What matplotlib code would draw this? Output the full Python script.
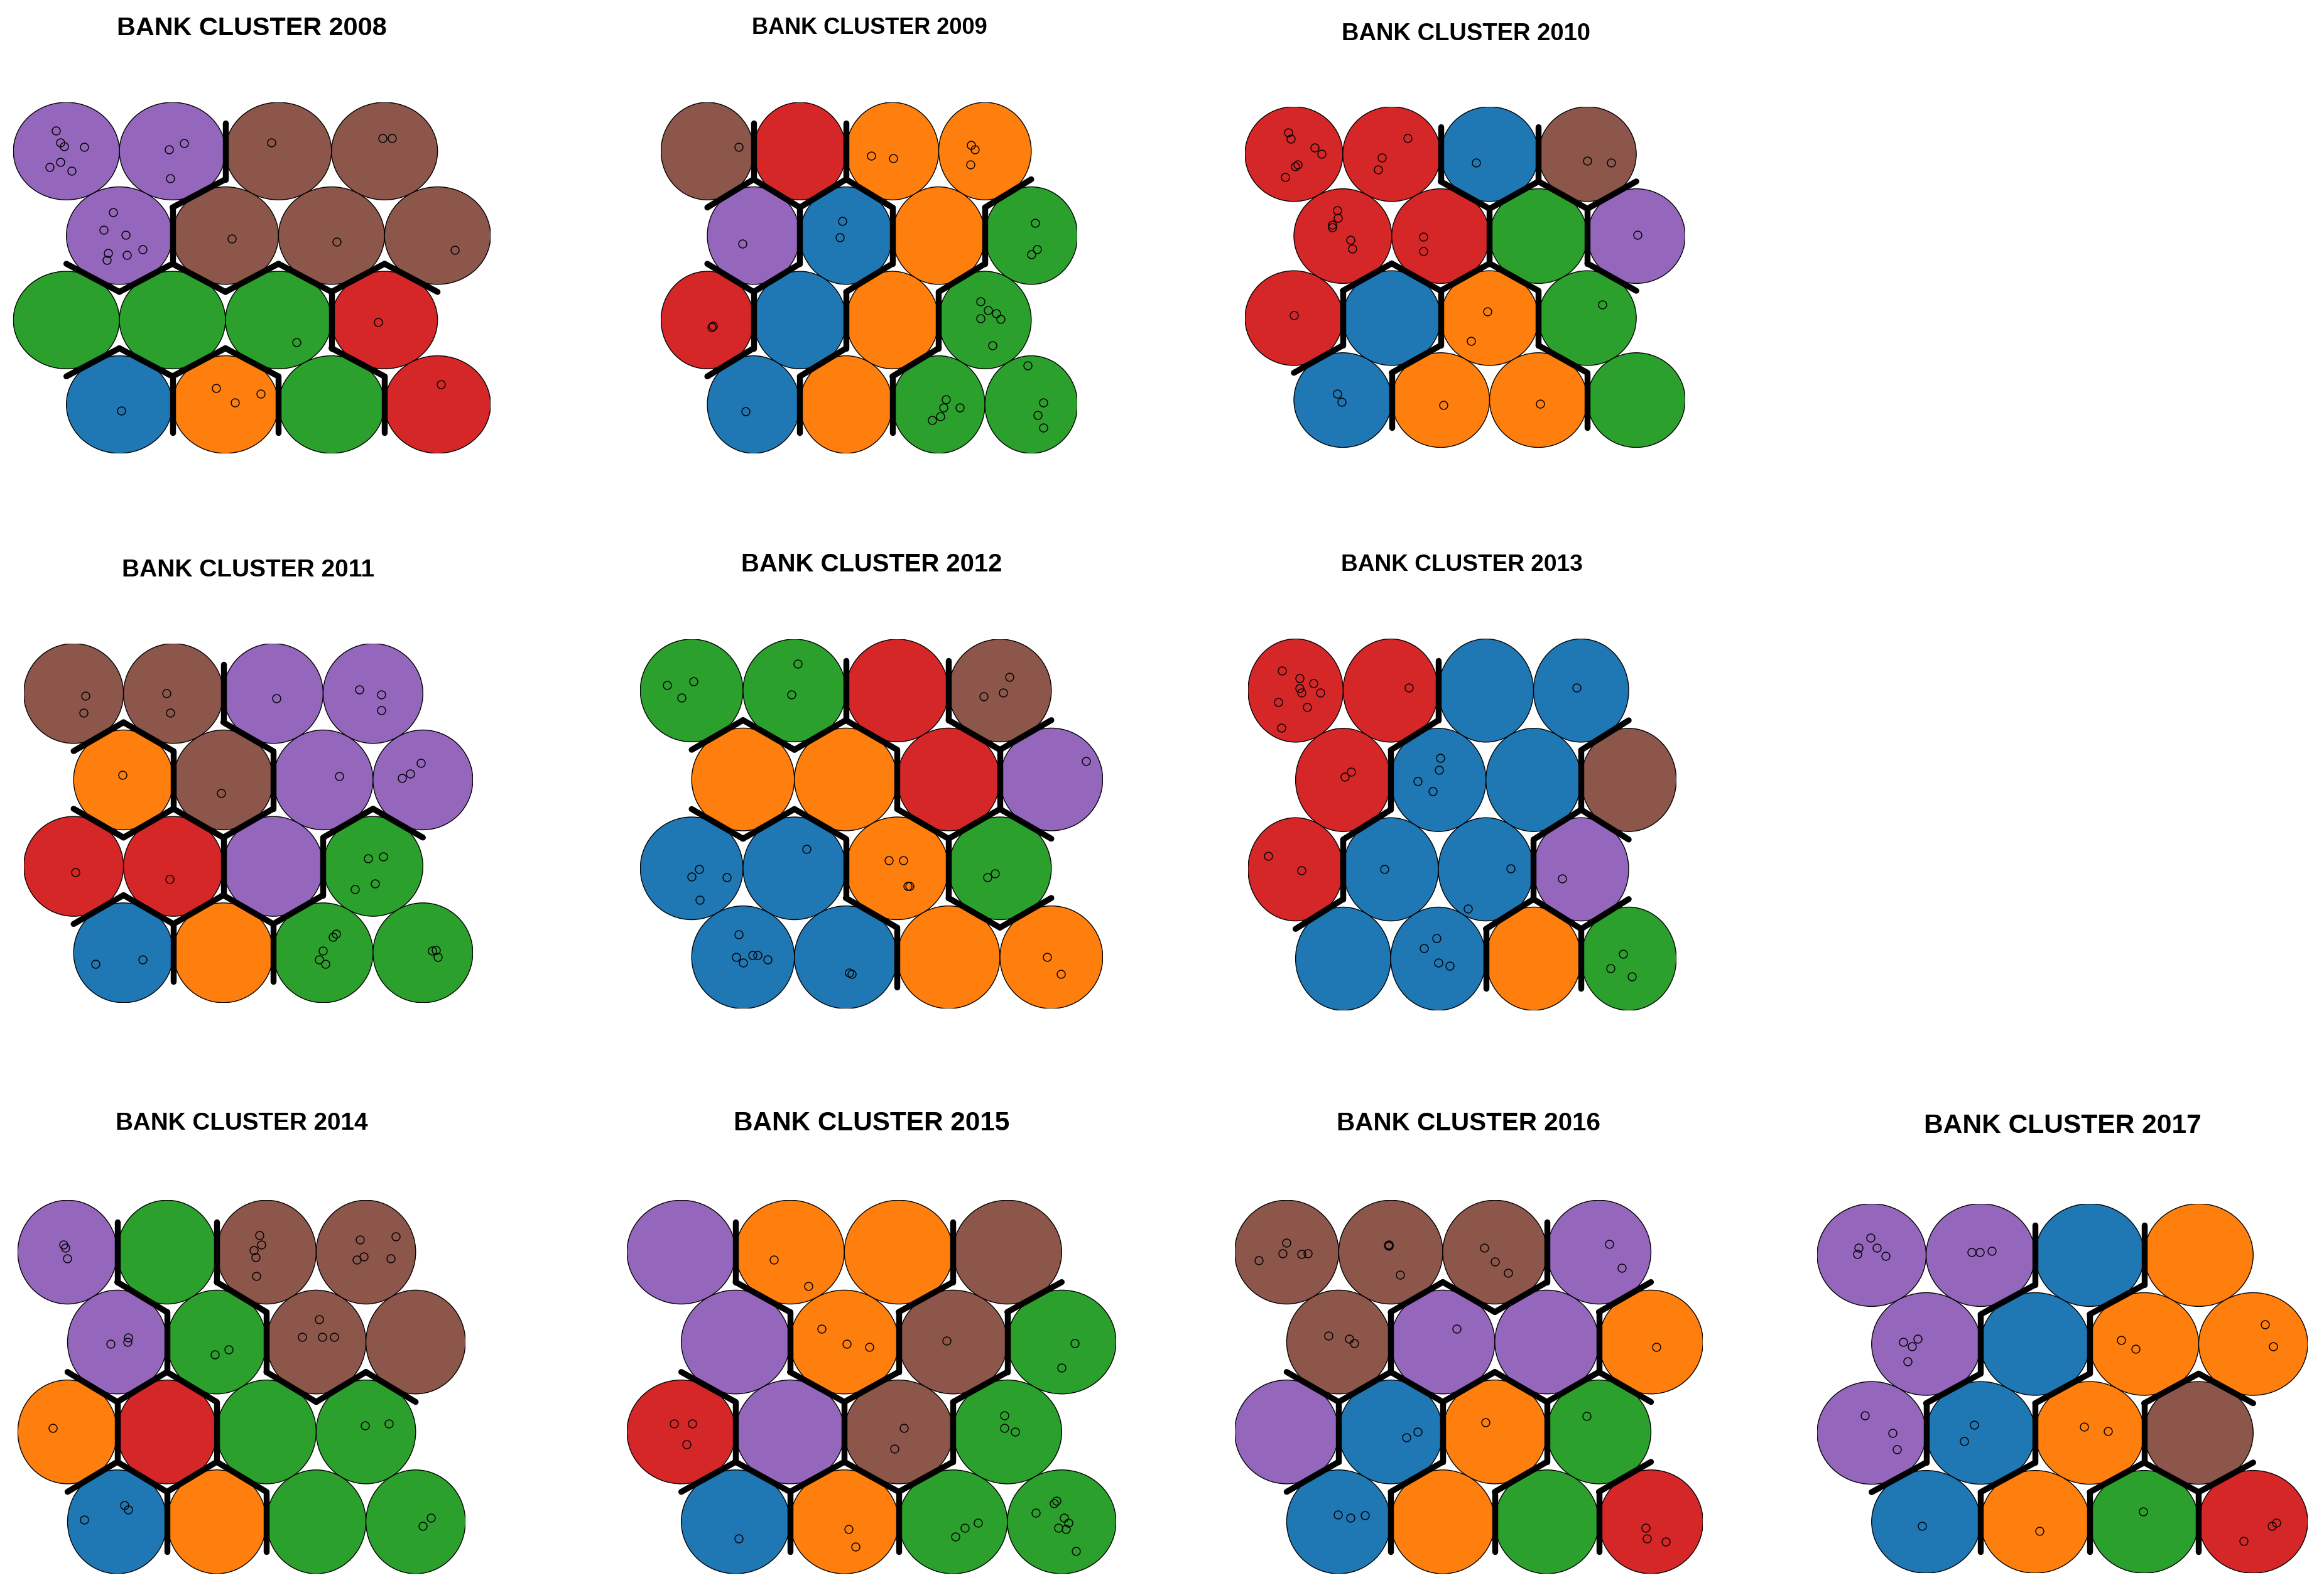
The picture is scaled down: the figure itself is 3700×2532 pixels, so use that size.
import numpy as np
import matplotlib
matplotlib.use("Agg")
import matplotlib.pyplot as plt
from matplotlib.patches import Circle

# ---------------- data ----------------
years = [2008, 2009, 2010, 2011, 2012, 2013, 2014, 2015, 2016, 2017]

palette = {"blue": "#1f77b4", "orange": "#ff7f0e", "green": "#2ca02c",
           "red": "#d62728", "purple": "#9467bd", "brown": "#8c564b"}

# cluster colour of each SOM unit, rows listed top to bottom, 4 units per row
clusters_2008 = ["purple", "purple", "brown", "brown",
                 "purple", "brown", "brown", "brown",
                 "green", "green", "green", "red",
                 "blue", "orange", "green", "red"]
clusters_2009 = ["brown", "red", "orange", "orange",
                 "purple", "blue", "orange", "green",
                 "red", "blue", "orange", "green",
                 "blue", "orange", "green", "green"]
clusters_2010 = ["red", "red", "blue", "brown",
                 "red", "red", "green", "purple",
                 "red", "blue", "orange", "green",
                 "blue", "orange", "orange", "green"]
clusters_2011 = ["brown", "brown", "purple", "purple",
                 "orange", "brown", "purple", "purple",
                 "red", "red", "purple", "green",
                 "blue", "orange", "green", "green"]
clusters_2012 = ["green", "green", "red", "brown",
                 "orange", "orange", "red", "purple",
                 "blue", "blue", "orange", "green",
                 "blue", "blue", "orange", "orange"]
clusters_2013 = ["red", "red", "blue", "blue",
                 "red", "blue", "blue", "brown",
                 "red", "blue", "blue", "purple",
                 "blue", "blue", "orange", "green"]
clusters_2014 = ["purple", "green", "brown", "brown",
                 "purple", "green", "brown", "brown",
                 "orange", "red", "green", "green",
                 "blue", "orange", "green", "green"]
clusters_2015 = ["purple", "orange", "orange", "brown",
                 "purple", "orange", "brown", "green",
                 "red", "purple", "brown", "green",
                 "blue", "orange", "green", "green"]
clusters_2016 = ["brown", "brown", "brown", "purple",
                 "brown", "purple", "purple", "orange",
                 "purple", "blue", "orange", "green",
                 "blue", "orange", "green", "red"]
clusters_2017 = ["purple", "purple", "blue", "orange",
                 "purple", "blue", "orange", "orange",
                 "purple", "blue", "orange", "brown",
                 "blue", "orange", "green", "red"]

# banks mapped to units: (row, col, dx, dy) offsets inside the unit
points_2008 = [(0, 0, -0.10, 0.21), (0, 0, -0.06, 0.09), (0, 0, -0.02, 0.05), (0, 0, 0.17, 0.04),
               (0, 0, -0.06, -0.11), (0, 0, -0.16, -0.16), (0, 0, 0.05, -0.20),
               (0, 1, -0.03, 0.02), (0, 1, 0.11, 0.08), (0, 1, -0.02, -0.28),
               (0, 2, -0.07, 0.09), (0, 3, -0.02, 0.13), (0, 3, 0.07, 0.13),
               (1, 0, -0.06, 0.24), (1, 0, -0.15, 0.06), (1, 0, 0.06, 0.01), (1, 0, 0.22, -0.14),
               (1, 0, -0.11, -0.18), (1, 0, 0.07, -0.20), (1, 0, -0.12, -0.25),
               (1, 1, 0.06, -0.03), (1, 2, 0.05, -0.06), (1, 3, 0.16, -0.15),
               (2, 2, 0.17, -0.23), (2, 3, -0.06, -0.02),
               (3, 0, 0.02, -0.06), (3, 1, -0.09, 0.17), (3, 1, 0.09, 0.02), (3, 1, 0.33, 0.11),
               (3, 3, 0.03, 0.21)]
points_2009 = [(0, 0, 0.34, 0.04), (0, 2, -0.23, -0.05), (0, 2, 0.01, -0.07),
               (0, 3, -0.15, 0.06), (0, 3, -0.11, 0.02), (0, 3, -0.16, -0.14),
               (1, 0, -0.12, -0.08), (1, 1, -0.04, 0.15), (1, 1, -0.07, -0.02),
               (1, 3, 0.04, 0.13), (1, 3, 0.06, -0.14), (1, 3, 0.00, -0.19),
               (2, 0, 0.06, -0.06), (2, 0, 0.05, -0.07),
               (2, 3, -0.05, 0.19), (2, 3, 0.03, 0.10), (2, 3, 0.12, 0.07), (2, 3, -0.05, 0.02),
               (2, 3, 0.17, 0.01), (2, 3, 0.08, -0.26),
               (3, 0, -0.09, -0.07),
               (3, 2, 0.08, 0.05), (3, 2, 0.05, -0.03), (3, 2, 0.23, -0.03), (3, 2, 0.02, -0.12),
               (3, 2, -0.07, -0.16),
               (3, 3, -0.04, 0.40), (3, 3, 0.13, 0.02), (3, 3, 0.07, -0.11), (3, 3, 0.13, -0.24)]
points_2010 = [(0, 0, -0.06, 0.23), (0, 0, -0.03, 0.16), (0, 0, 0.21, 0.07), (0, 0, 0.28, 0.00),
               (0, 0, 0.04, -0.11), (0, 0, 0.01, -0.13), (0, 0, -0.09, -0.24),
               (0, 1, 0.16, 0.17), (0, 1, -0.10, -0.04), (0, 1, -0.14, -0.16),
               (0, 2, -0.14, -0.09), (0, 3, 0.00, -0.07), (0, 3, 0.24, -0.09),
               (1, 0, -0.06, 0.27), (1, 0, -0.05, 0.19), (1, 0, -0.11, 0.12), (1, 0, -0.11, 0.09),
               (1, 0, 0.08, -0.04), (1, 0, 0.10, -0.13),
               (1, 1, -0.18, -0.01), (1, 1, -0.18, -0.16), (1, 3, 0.01, 0.01),
               (2, 0, 0.00, 0.03), (2, 2, -0.02, 0.07), (2, 2, -0.19, -0.24), (2, 3, 0.15, 0.14),
               (3, 0, -0.06, 0.07), (3, 0, -0.01, -0.02), (3, 1, 0.03, -0.05), (3, 2, 0.02, -0.04)]
points_2011 = [(0, 0, 0.12, -0.02), (0, 0, 0.10, -0.19), (0, 1, -0.07, 0.00), (0, 1, -0.03, -0.19),
               (0, 2, 0.03, -0.05), (0, 3, -0.14, 0.04), (0, 3, 0.08, -0.01), (0, 3, 0.08, -0.17),
               (1, 0, -0.01, 0.05), (1, 1, -0.02, -0.13), (1, 2, 0.16, 0.04),
               (1, 3, -0.02, 0.17), (1, 3, -0.13, 0.06), (1, 3, -0.21, 0.02),
               (2, 0, 0.02, -0.06), (2, 1, -0.04, -0.13),
               (2, 3, -0.05, 0.08), (2, 3, 0.10, 0.10), (2, 3, 0.02, -0.17), (2, 3, -0.18, -0.23),
               (3, 0, -0.28, -0.11), (3, 0, 0.19, -0.07),
               (3, 2, 0.13, 0.19), (3, 2, 0.10, 0.16), (3, 2, 0.00, 0.02), (3, 2, -0.04, -0.07),
               (3, 2, 0.02, -0.11),
               (3, 3, 0.09, 0.02), (3, 3, 0.13, 0.03), (3, 3, 0.15, -0.04)]
points_2012 = [(0, 0, -0.24, 0.05), (0, 0, 0.02, 0.09), (0, 0, -0.10, -0.07),
               (0, 1, 0.03, 0.26), (0, 1, -0.03, -0.04),
               (0, 3, 0.09, 0.13), (0, 3, 0.03, -0.02), (0, 3, -0.16, -0.06),
               (1, 3, 0.34, 0.18),
               (2, 0, 0.07, -0.01), (2, 0, 0.00, -0.08), (2, 0, 0.34, -0.09), (2, 0, 0.08, -0.31),
               (2, 1, 0.12, 0.19),
               (2, 2, -0.08, 0.08), (2, 2, 0.06, 0.08), (2, 2, 0.10, -0.17), (2, 2, 0.12, -0.17),
               (2, 3, -0.05, -0.05), (2, 3, -0.12, -0.09),
               (3, 0, -0.04, 0.22), (3, 0, -0.07, 0.00), (3, 0, 0.00, -0.05), (3, 0, 0.09, 0.02),
               (3, 0, 0.14, 0.02), (3, 0, 0.24, -0.02),
               (3, 1, 0.03, -0.15), (3, 1, 0.06, -0.16),
               (3, 3, -0.04, 0.00), (3, 3, 0.09, -0.16)]
points_2013 = [(0, 0, -0.14, 0.19), (0, 0, 0.04, 0.12), (0, 0, 0.19, 0.07), (0, 0, 0.04, 0.02),
               (0, 0, 0.06, -0.02), (0, 0, 0.26, -0.02), (0, 0, -0.18, -0.11), (0, 0, 0.12, -0.16),
               (0, 0, -0.15, -0.36),
               (0, 1, 0.19, 0.03), (0, 3, -0.05, 0.03),
               (1, 0, 0.08, 0.08), (1, 0, 0.02, 0.03),
               (1, 1, 0.02, 0.21), (1, 1, 0.01, 0.10), (1, 1, -0.22, -0.01), (1, 1, -0.06, -0.11),
               (2, 0, -0.29, 0.13), (2, 0, 0.06, -0.01), (2, 1, -0.07, 0.00),
               (2, 2, 0.26, 0.01), (2, 2, -0.19, -0.38), (2, 3, -0.20, -0.09),
               (3, 1, -0.02, 0.20), (3, 1, -0.15, 0.10), (3, 1, 0.00, -0.04), (3, 1, 0.12, -0.07),
               (3, 3, -0.06, 0.05), (3, 3, -0.19, -0.09), (3, 3, 0.03, -0.17)]
points_2014 = [(0, 0, -0.04, 0.07), (0, 0, -0.02, 0.04), (0, 0, 0.00, -0.06),
               (0, 2, -0.07, 0.16), (0, 2, -0.05, 0.07), (0, 2, -0.13, 0.02), (0, 2, -0.11, -0.05),
               (0, 2, -0.10, -0.23),
               (0, 3, -0.06, 0.12), (0, 3, 0.30, 0.15), (0, 3, -0.02, -0.04), (0, 3, -0.09, -0.07),
               (0, 3, 0.25, -0.06),
               (1, 0, 0.11, 0.04), (1, 0, 0.10, 0.00), (1, 0, -0.07, -0.02),
               (1, 1, 0.12, -0.07), (1, 1, -0.02, -0.12),
               (1, 2, 0.03, 0.22), (1, 2, -0.14, 0.05), (1, 2, 0.06, 0.05), (1, 2, 0.18, 0.05),
               (2, 0, -0.15, 0.04), (2, 3, -0.01, 0.06), (2, 3, 0.23, 0.08),
               (3, 0, 0.07, 0.16), (3, 0, 0.11, 0.12), (3, 0, -0.33, 0.02),
               (3, 3, 0.15, 0.04), (3, 3, 0.07, -0.04)]
points_2015 = [(0, 1, -0.15, -0.07), (0, 1, 0.17, -0.33),
               (1, 1, -0.21, 0.13), (1, 1, 0.02, -0.02), (1, 1, 0.23, -0.05),
               (1, 2, -0.06, 0.01), (1, 3, 0.12, -0.01), (1, 3, 0.00, -0.25),
               (2, 0, -0.07, 0.08), (2, 0, 0.10, 0.08), (2, 0, 0.05, -0.12),
               (2, 2, 0.05, 0.04), (2, 2, -0.04, -0.16),
               (2, 3, -0.03, 0.16), (2, 3, -0.03, 0.04), (2, 3, 0.07, 0.00),
               (3, 0, 0.03, -0.16), (3, 1, 0.04, -0.07), (3, 1, 0.10, -0.24),
               (3, 2, 0.23, -0.01), (3, 2, 0.11, -0.06), (3, 2, 0.02, -0.14),
               (3, 3, -0.05, 0.20), (3, 3, -0.07, 0.18), (3, 3, -0.24, 0.09), (3, 3, 0.02, 0.04),
               (3, 3, 0.06, -0.01), (3, 3, -0.03, -0.06), (3, 3, 0.04, -0.07), (3, 3, 0.13, -0.28)]
points_2016 = [(0, 0, 0.00, 0.09), (0, 0, -0.04, -0.01), (0, 0, 0.14, -0.02), (0, 0, 0.20, -0.01),
               (0, 0, -0.27, -0.08),
               (0, 1, -0.02, 0.07), (0, 1, -0.02, 0.06), (0, 1, -0.025, 0.065), (0, 1, 0.09, -0.22),
               (0, 2, -0.10, 0.04), (0, 2, 0.00, -0.09), (0, 2, 0.13, -0.20),
               (0, 3, 0.10, 0.08), (0, 3, 0.22, -0.15),
               (1, 0, -0.10, 0.06), (1, 0, 0.10, 0.03), (1, 0, 0.15, -0.01),
               (1, 1, 0.13, 0.13), (1, 3, 0.05, -0.05),
               (2, 1, 0.15, -0.05), (2, 1, 0.26, 0.00), (2, 2, -0.09, 0.09), (2, 3, -0.12, 0.15),
               (3, 0, -0.01, 0.07), (3, 0, 0.11, 0.04), (3, 0, 0.25, 0.06),
               (3, 3, -0.05, -0.06), (3, 3, -0.04, -0.16), (3, 3, 0.14, -0.19)]
points_2017 = [(0, 0, -0.01, 0.17), (0, 0, -0.12, 0.07), (0, 0, 0.05, 0.07), (0, 0, -0.13, 0.01),
               (0, 0, 0.13, -0.01),
               (0, 1, -0.08, 0.03), (0, 1, -0.01, 0.03), (0, 1, 0.10, 0.04),
               (1, 0, -0.08, 0.05), (1, 0, -0.21, 0.02), (1, 0, -0.13, -0.02), (1, 0, -0.17, -0.17),
               (1, 2, -0.21, 0.04), (1, 2, -0.08, -0.05), (1, 3, 0.11, 0.19), (1, 3, 0.18, -0.02),
               (2, 0, -0.06, 0.17), (2, 0, 0.19, 0.00), (2, 0, 0.23, -0.16),
               (2, 1, -0.06, 0.08), (2, 1, -0.15, -0.08),
               (2, 2, -0.05, 0.06), (2, 2, 0.17, 0.02),
               (3, 0, -0.04, -0.04), (3, 1, 0.04, -0.09), (3, 2, -0.01, 0.10),
               (3, 3, 0.17, -0.04), (3, 3, 0.21, -0.01), (3, 3, -0.09, -0.19)]

clusters = [clusters_2008, clusters_2009, clusters_2010, clusters_2011, clusters_2012,
            clusters_2013, clusters_2014, clusters_2015, clusters_2016, clusters_2017]
points = [points_2008, points_2009, points_2010, points_2011, points_2012,
          points_2013, points_2014, points_2015, points_2016, points_2017]

# ---------------- layout (pixels of a 1568-wide preview) ----------------
block_left = [9, 446, 840, 16, 432, 842, 12, 423, 833, 1226]
block_right = [331, 727, 1137, 319, 744, 1131, 314, 753, 1149, 1557]
row_top_y = [102, 102, 104, 468, 466, 466, 845, 845, 845, 847]
row_bot_y = [273, 273, 270, 643, 646, 647, 1027, 1027, 1027, 1027]
title_x = [170, 586.5, 989, 167.5, 588, 986.5, 163, 588, 991, 1391.5]
title_y = [19, 19, 23, 385, 381, 381, 758, 758, 758, 760]
title_w = [182, 159, 168, 171, 176, 163, 170, 186, 178, 187]

W, H, DPI = 3700, 2532, 100
S = W / 1568.0

plt.rcParams["font.family"] = ["Liberation Sans", "DejaVu Sans"]
fig = plt.figure(figsize=(W / DPI, H / DPI), dpi=DPI)
fig.patch.set_facecolor("white")

h = np.sqrt(3) / 2
R = 1 / np.sqrt(3)


def centre(r, c):
    return c + 0.5 * (r % 2), (3 - r) * h


for k, yr in enumerate(years):
    xl, xr = block_left[k], block_right[k]
    pu_y = (row_bot_y[k] - row_top_y[k]) / (3 * h)
    top = row_top_y[k] - 0.5 * pu_y
    bot = row_bot_y[k] + 0.5 * pu_y
    ax = fig.add_axes([xl * S / W, 1 - bot * S / H, (xr - xl) * S / W, (bot - top) * S / H])
    ax.set_xlim(-0.5, 4.0)
    ax.set_ylim(-0.5, 3 * h + 0.5)
    ax.axis("off")

    cl = clusters[k]
    for r in range(4):
        for c in range(4):
            x, y = centre(r, c)
            ax.add_patch(Circle((x, y), 0.5, facecolor=palette[cl[r * 4 + c]],
                                edgecolor="black", linewidth=1.0, zorder=1))

    px = [centre(r, c)[0] + dx for r, c, dx, dy in points[k]]
    py = [centre(r, c)[1] + dy for r, c, dx, dy in points[k]]
    ax.plot(px, py, "o", mfc="none", mec="black", ms=9.3, mew=1.05, zorder=3)

    # cluster boundaries between neighbouring units of different clusters
    units = [(r, c) for r in range(4) for c in range(4)]
    for i in range(16):
        for j in range(i + 1, 16):
            if cl[i] == cl[j]:
                continue
            a = np.array(centre(*units[i]))
            b = np.array(centre(*units[j]))
            d = b - a
            if abs(np.hypot(*d) - 1) > 1e-6:
                continue
            m = (a + b) / 2
            p = np.array([-d[1], d[0]]) * (R / 2)
            ax.plot([m[0] - p[0], m[0] + p[0]], [m[1] - p[1], m[1] + p[1]],
                    color="black", lw=6.8, solid_capstyle="round", zorder=4, clip_on=False)

    em_px = title_w[k] * S / 10.39
    fig.text(title_x[k] * S / W, 1 - title_y[k] * S / H, "BANK CLUSTER %d" % yr,
             ha="center", va="center", fontweight="bold", fontsize=em_px * 72 / DPI)

fig.savefig("out.png", dpi=DPI, facecolor="white")
